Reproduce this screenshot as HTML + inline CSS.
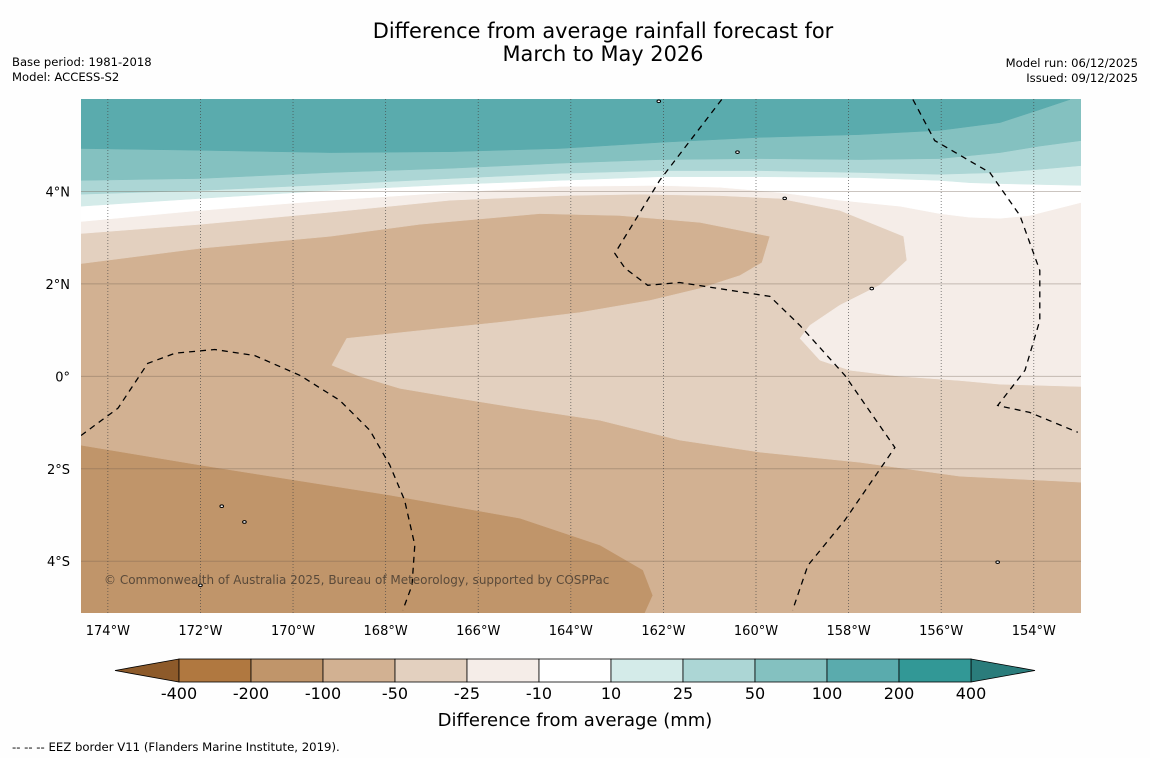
<!DOCTYPE html>
<html><head><meta charset="utf-8"><style>
html,body{margin:0;padding:0;background:#fff;}
body{width:1150px;height:758px;overflow:hidden;font-family:"DejaVu Sans","Liberation Sans",sans-serif;}
svg text{font-family:"DejaVu Sans","Liberation Sans",sans-serif;}
</style></head><body>
<svg id="chart" width="1150" height="758" viewBox="0 0 1150 758" xmlns="http://www.w3.org/2000/svg">
<rect width="1150" height="758" fill="#fefefe"/>
<text x="603" y="38" font-size="20.9" text-anchor="middle" fill="#000">Difference from average rainfall forecast for</text>
<text x="603" y="61" font-size="20.9" text-anchor="middle" fill="#000">March to May 2026</text>
<text x="12" y="66" font-size="11.6">Base period: 1981-2018</text>
<text x="12" y="81" font-size="11.6">Model: ACCESS-S2</text>
<text x="1138" y="67" font-size="11.6" text-anchor="end">Model run: 06/12/2025</text>
<text x="1138" y="82" font-size="11.6" text-anchor="end">Issued: 09/12/2025</text>
<defs><clipPath id="mapclip"><rect x="81" y="99" width="1000" height="514"/></clipPath></defs>
<g id="map" clip-path="url(#mapclip)"></g>
<g id="axes"></g>
<g id="cbar"></g>
<text x="575" y="726" font-size="18" text-anchor="middle">Difference from average (mm)</text>
<text x="12" y="751" font-size="11.7">--  --  -- EEZ border V11 (Flanders Marine Institute, 2019).</text>
</svg>
<script>
const NS="http://www.w3.org/2000/svg";
// axis extents
const lonMin=-174.58, lonMax=-152.98, latMin=-5.12, latMax=6.0;
const lonTicks=[-174,-172,-170,-168,-166,-164,-162,-160,-158,-156,-154];
const lonTickLabels=["174°W","172°W","170°W","168°W","166°W","164°W","162°W","160°W","158°W","156°W","154°W"];
const latTicks=[4,2,0,-2,-4];
const latTickLabels=["4°N","2°N","0°","2°S","4°S"];
// colorbar
const levels=[-400,-200,-100,-50,-25,-10,10,25,50,100,200,400];
const levelColors=["#b07840","#c0956a","#d2b192","#e3d0bf","#f5ede8","#ffffff","#d4ebe9","#acd6d5","#84c1c0","#5aabad","#329896"];
const underColor="#8d5a2a", overColor="#2a7c7b";
// contour boundaries [lon,lat]; region above each drawn with colour
const contourLevels=[-100,-50,-25,-10,10,25,50,100];
const contourColors=["#d2b192","#e3d0bf","#f5ede8","#ffffff","#d4ebe9","#acd6d5","#84c1c0","#5aabad"];
const c_m100=[[-174.58,-1.49],[-172.0,-1.92],[-167.91,-2.57],[-165.10,-3.07],[-163.37,-3.65],[-162.44,-4.19],[-162.23,-4.74],[-162.40,-5.12]];
const c_m50=[[-174.58,2.44],[-172.0,2.77],[-169.2,3.03],[-167.26,3.29],[-164.67,3.52],[-162.94,3.48],[-161.21,3.33],[-159.70,3.03],[-159.87,2.46],[-160.35,2.18],[-161.21,1.90],[-162.29,1.64],[-163.81,1.38],[-165.53,1.17],[-167.26,0.99],[-168.84,0.82],[-169.16,0.24],[-168.56,0],[-167.69,-0.26],[-166.40,-0.48],[-165.10,-0.69],[-163.37,-0.95],[-161.65,-1.38],[-159.92,-1.64],[-157.76,-1.86],[-155.60,-2.16],[-152.98,-2.29]];
const c_m25=[[-174.58,3.09],[-172.0,3.29],[-169.2,3.55],[-166.6,3.81],[-164.24,3.91],[-162.51,3.94],[-160.78,3.91],[-159.49,3.85],[-158.19,3.59],[-156.81,3.03],[-156.74,2.51],[-157.33,1.97],[-158.19,1.54],[-158.84,1.10],[-159.05,0.82],[-158.62,0.35],[-157.97,0.13],[-156.89,0],[-155.60,-0.09],[-154.73,-0.17],[-152.98,-0.22]];
const c_m10=[[-174.58,3.35],[-172.0,3.59],[-169.2,3.81],[-166.6,3.98],[-164.24,4.11],[-162.08,4.13],[-160.78,4.09],[-159.49,3.98],[-158.19,3.81],[-156.89,3.68],[-156.03,3.52],[-155.38,3.44],[-154.73,3.42],[-154.09,3.48],[-152.98,3.76]];
const c_p10=[[-174.58,3.68],[-172.0,3.85],[-169.2,4.02],[-166.6,4.15],[-164.24,4.24],[-162.08,4.32],[-159.92,4.32],[-157.76,4.30],[-156.03,4.24],[-155.38,4.19],[-154.73,4.17],[-153.87,4.15],[-152.98,4.13]];
const c_p25=[[-174.58,3.94],[-172.0,4.02],[-169.2,4.15],[-166.6,4.28],[-164.24,4.39],[-162.08,4.45],[-159.92,4.45],[-157.76,4.41],[-156.03,4.37],[-154.73,4.41],[-153.87,4.48],[-152.98,4.56]];
const c_p50=[[-174.58,4.24],[-172.0,4.28],[-169.2,4.41],[-166.6,4.50],[-164.24,4.61],[-162.08,4.69],[-159.92,4.71],[-157.76,4.69],[-156.03,4.71],[-154.73,4.84],[-153.87,4.98],[-152.98,5.10]];
const c_p100=[[-174.58,4.93],[-172.0,4.89],[-169.2,4.84],[-166.6,4.86],[-164.24,4.93],[-162.08,5.06],[-159.92,5.17],[-157.76,5.23],[-156.03,5.32],[-154.73,5.49],[-153.87,5.77],[-153.22,5.99]];
// EEZ borders
const eezA=[[-160.74,5.99],[-162.08,4.24],[-163.05,2.66],[-162.83,2.34],[-162.34,1.97],[-161.65,2.03],[-159.70,1.73],[-159.05,1.10],[-158.08,0.02],[-157.00,-1.54],[-158.08,-3.11],[-158.88,-4.09],[-159.21,-5.06]];
const eezB=[[-156.61,5.99],[-156.14,5.10],[-154.95,4.41],[-154.30,3.48],[-153.87,2.29],[-153.87,1.21],[-154.19,0.13],[-154.78,-0.63],[-154.09,-0.78],[-153.05,-1.21]];
const eezC=[[-174.58,-1.28],[-173.78,-0.69],[-173.14,0.28],[-172.55,0.50],[-171.69,0.58],[-170.83,0.45],[-169.85,0.02],[-168.99,-0.52],[-168.34,-1.17],[-167.91,-1.92],[-167.59,-2.68],[-167.37,-3.65],[-167.43,-4.52],[-167.63,-5.06]];
const islands=[[-159.38,3.85],[-157.50,1.90],[-171.54,-2.81],[-172.0,-4.52],[-154.78,-4.02],[-162.1,5.95],[-160.4,4.85],[-171.05,-3.15]];

const X0=81,X1=1081,Y0=99,Y1=613;
function xs(lon){return X0+(lon-lonMin)/(lonMax-lonMin)*(X1-X0);}
function ys(lat){return Y0+(latMax-lat)/(latMax-latMin)*(Y1-Y0);}
function pts(a){return a.map(p=>xs(p[0]).toFixed(1)+","+ys(p[1]).toFixed(1)).join(" ");}
const map=document.getElementById("map"), axes=document.getElementById("axes"), cbar=document.getElementById("cbar");
function mk(tag,attrs,parent){const e=document.createElementNS(NS,tag);for(const k in attrs)e.setAttribute(k,attrs[k]);parent.appendChild(e);return e;}

let bg=mk("rect",{x:X0,y:Y0,width:X1-X0,height:Y1-Y0,fill:"#c0956a"},map);


const curves=[c_m100,c_m50,c_m25,c_m10,c_p10,c_p25,c_p50,c_p100];
curves.forEach((c,i)=>{
  const last=c[c.length-1];
  let poly=[[lonMin,latMax]].concat(c);
  if(Math.abs(last[1]-latMin)<0.01) poly.push([lonMax,latMin],[lonMax,latMax]);
  else if(Math.abs(last[0]-lonMax)<0.01) poly.push([lonMax,latMax]);
  const p=mk("polygon",{points:pts(poly),fill:contourColors[i],stroke:contourColors[i],"stroke-width":0.5},map);
  
  
});
lonTicks.forEach(l=>{
  const g=mk("line",{x1:xs(l),x2:xs(l),y1:Y0,y2:Y1,stroke:"#444","stroke-width":0.8,"stroke-dasharray":"1,2","stroke-opacity":0.8},map);
  
  
});
latTicks.forEach(l=>{
  const g=mk("line",{x1:X0,x2:X1,y1:ys(l),y2:ys(l),stroke:"#6a5a4a","stroke-width":1,"stroke-opacity":0.35},map);
  
  
});
[eezA,eezB,eezC].forEach(e=>{
  const l=mk("polyline",{points:pts(e),fill:"none",stroke:"#000","stroke-width":1.3,"stroke-dasharray":"6,5"},map);
  
  
});
islands.forEach(p=>{
  const e=mk("ellipse",{cx:xs(p[0]),cy:ys(p[1]),rx:1.8,ry:1.3,fill:"#fff",stroke:"#000","stroke-width":1},map);
  
  
});
const cp=mk("text",{x:104,y:584,"font-size":12,fill:"#5a4a3a"},map);
cp.textContent="© Commonwealth of Australia 2025, Bureau of Meteorology, supported by COSPPac";


lonTicks.forEach((l,i)=>{
  const t=mk("text",{x:xs(l),y:635,"font-size":13,"text-anchor":"middle"},axes);
  t.textContent=lonTickLabels[i];
  
  
});
latTicks.forEach((l,i)=>{
  const t=mk("text",{x:70,y:ys(l)+5,"font-size":13,"text-anchor":"end"},axes);
  t.textContent=latTickLabels[i];
  
  
});
const cbX0=179,cbW=72,cbY=659,cbH=23;
const nb=levels.length-1;
let ua=mk("polygon",{points:`${cbX0},${cbY} ${cbX0-64},${cbY+cbH/2} ${cbX0},${cbY+cbH}`,fill:underColor,stroke:"#000","stroke-width":0.8},cbar);


let oa=mk("polygon",{points:`${cbX0+nb*cbW},${cbY} ${cbX0+nb*cbW+64},${cbY+cbH/2} ${cbX0+nb*cbW},${cbY+cbH}`,fill:overColor,stroke:"#000","stroke-width":0.8},cbar);


for(let i=0;i<nb;i++){
  const r=mk("rect",{x:cbX0+i*cbW,y:cbY,width:cbW,height:cbH,fill:levelColors[i],stroke:"#000","stroke-width":0.8},cbar);
  
  
}
levels.forEach((v,i)=>{
  const t=mk("text",{x:cbX0+i*cbW,y:699,"font-size":16,"text-anchor":"middle"},cbar);
  t.textContent=String(v);
  
  
});
</script>
</body></html>
